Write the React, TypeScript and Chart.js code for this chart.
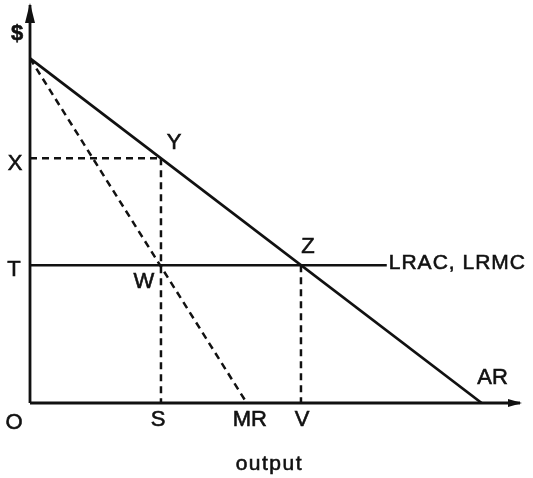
import { useEffect, useRef } from "react";
import { Chart, registerables } from "chart.js";

Chart.register(...registerables);

// Monopoly vs. competitive output under constant long-run costs
const priceIntercept = 10; // AR meets the $ axis
const arQuantity = 10; // AR meets the output axis
const mrQuantity = 4.8; // MR meets the output axis
const costLevel = 4; // T: LRAC = LRMC
const lracEnd = 7.9; // where the LRAC line runs into its label
const monopolyOutput = 2.9; // S
const monopolyPrice = 7.1; // X
const competitiveOutput = 6; // V
const axisMaxX = 10.85;
const axisMaxY = 11.55;

const INK = "#111111";
const FONT = '"Liberation Sans", Arial, sans-serif';

type Label = {
  text: string;
  x: number;
  y: number;
  dx: number;
  dy: number;
  size: number;
  align?: CanvasTextAlign;
  spacing?: number;
  bold?: boolean;
};

const labels: Label[] = [
  { text: "$", x: 0, y: axisMaxY, dx: -13, dy: 29, size: 22, bold: true },
  { text: "X", x: 0, y: monopolyPrice, dx: -15, dy: 6, size: 22 },
  { text: "T", x: 0, y: costLevel, dx: -16, dy: 5, size: 22 },
  { text: "O", x: 0, y: 0, dx: -16, dy: 20, size: 22 },
  { text: "S", x: monopolyOutput, y: 0, dx: -3, dy: 17, size: 22 },
  { text: "MR", x: mrQuantity, y: 0, dx: 3, dy: 17, size: 22 },
  { text: "V", x: competitiveOutput, y: 0, dx: 1, dy: 17, size: 22 },
  { text: "Y", x: monopolyOutput, y: monopolyPrice, dx: 13, dy: -15, size: 22 },
  { text: "W", x: monopolyOutput, y: costLevel, dx: -17, dy: 17, size: 22 },
  { text: "Z", x: competitiveOutput, y: costLevel, dx: 7, dy: -18, size: 22 },
  { text: "AR", x: arQuantity, y: 0, dx: 11, dy: -25, size: 22 },
  { text: "LRAC, LRMC", x: lracEnd, y: costLevel, dx: 2, dy: -2, size: 21, align: "left", spacing: 1 },
  { text: "output", x: 5.3, y: 0, dx: 0, dy: 61, size: 21, spacing: 1.5 },
];

const annotate = {
  id: "annotate",
  afterDatasetsDraw(chart: Chart) {
    const { ctx, scales } = chart;
    const sx = scales.x;
    const sy = scales.y;
    ctx.save();
    ctx.fillStyle = INK;
    ctx.strokeStyle = INK;

    // arrowheads on both axes
    const ox = sx.getPixelForValue(0);
    const topY = sy.getPixelForValue(axisMaxY);
    ctx.beginPath();
    ctx.moveTo(ox, topY - 2);
    ctx.lineTo(ox - 5, topY + 18);
    ctx.lineTo(ox + 5, topY + 18);
    ctx.closePath();
    ctx.fill();

    const oy = sy.getPixelForValue(0);
    const rightX = sx.getPixelForValue(axisMaxX);
    ctx.beginPath();
    ctx.moveTo(rightX + 2, oy);
    ctx.lineTo(rightX - 12, oy - 4);
    ctx.lineTo(rightX - 12, oy + 4);
    ctx.closePath();
    ctx.fill();

    ctx.textBaseline = "middle";
    ctx.lineWidth = 0.6;
    for (const l of labels) {
      ctx.font = `${l.bold ? "bold " : ""}${l.size}px ${FONT}`;
      (ctx as any).letterSpacing = `${l.spacing ?? 0}px`;
      ctx.textAlign = l.align ?? "center";
      const px = sx.getPixelForValue(l.x) + l.dx;
      const py = sy.getPixelForValue(l.y) + l.dy;
      ctx.fillText(l.text, px, py);
      ctx.strokeText(l.text, px, py);
    }
    ctx.restore();
  },
};

function segment(
  label: string,
  a: [number, number],
  b: [number, number],
  width: number,
  dashed = false
) {
  return {
    label,
    data: [
      { x: a[0], y: a[1] },
      { x: b[0], y: b[1] },
    ],
    showLine: true,
    borderColor: INK,
    backgroundColor: INK,
    borderWidth: width,
    borderDash: dashed ? [7, 5] : [],
    pointRadius: 0,
    fill: false,
    clip: false as const,
    tension: 0,
  };
}

export default function App() {
  const canvasRef = useRef<HTMLCanvasElement | null>(null);

  useEffect(() => {
    if (!canvasRef.current) return;
    const chart = new Chart(canvasRef.current, {
      type: "scatter",
      data: {
        datasets: [
          segment("$ axis", [0, 0], [0, axisMaxY], 2.8),
          segment("output axis", [0, 0], [axisMaxX, 0], 2.8),
          segment("AR", [0, priceIntercept], [arQuantity, 0], 2.8),
          segment("MR", [0, priceIntercept], [mrQuantity, 0], 2.5, true),
          segment("LRAC, LRMC", [0, costLevel], [lracEnd, costLevel], 2.5),
          segment("X–Y", [0, monopolyPrice], [monopolyOutput, monopolyPrice], 2.5, true),
          segment("Y–S", [monopolyOutput, monopolyPrice], [monopolyOutput, 0], 2.5, true),
          segment("Z–V", [competitiveOutput, costLevel], [competitiveOutput, 0], 2.5, true),
        ],
      },
      options: {
        animation: false,
        responsive: false,
        maintainAspectRatio: false,
        layout: { padding: { left: 30, right: 13, top: 5, bottom: 75 } },
        plugins: {
          legend: { display: false },
          tooltip: { enabled: false },
          title: { display: false },
        },
        scales: {
          x: { type: "linear", min: 0, max: axisMaxX, display: false },
          y: { type: "linear", min: 0, max: axisMaxY, display: false },
        },
      },
      plugins: [annotate],
    });
    return () => chart.destroy();
  }, []);

  return (
    <div
      style={{
        position: "fixed",
        left: 0,
        top: 0,
        width: 533,
        height: 478,
        background: "#ffffff",
      }}
    >
      <canvas ref={canvasRef} width={533} height={478} style={{ display: "block" }} />
    </div>
  );
}
